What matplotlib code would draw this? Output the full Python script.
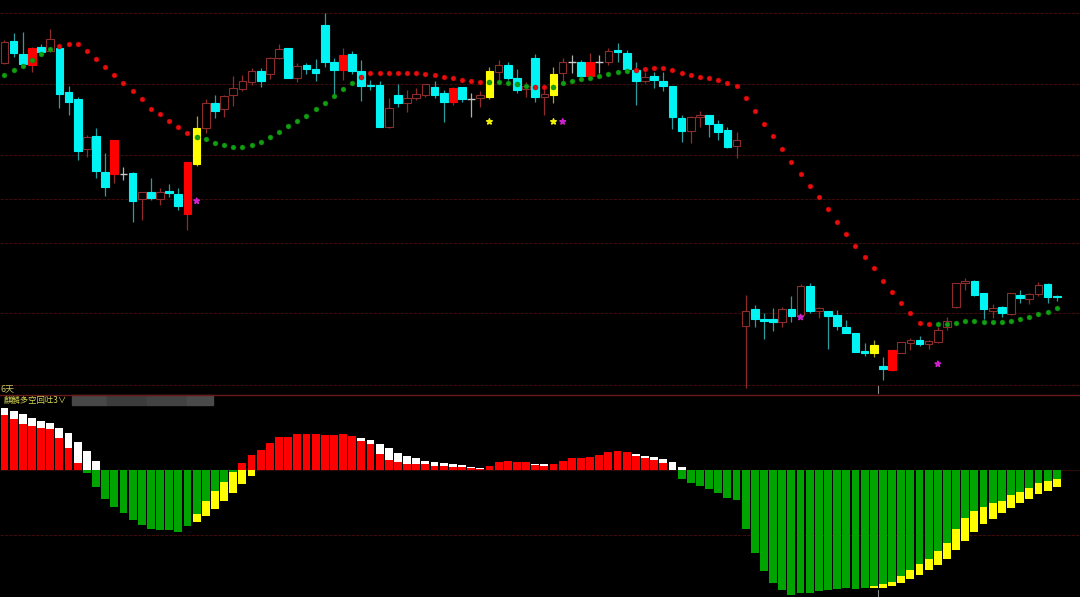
import matplotlib
matplotlib.use("Agg")
import matplotlib.pyplot as plt
from matplotlib.patches import Rectangle
from matplotlib.lines import Line2D
import numpy as np

plt.rcParams['font.family'] = ['Noto Sans CJK SC', 'DejaVu Sans']

# daily candles, price in points
opens = [537.3, 559.3, 546, 534.7, 553.3, 549, 552.3, 507.7, 500.7, 451,
         464.3, 427.7, 426.3, 426, 426.7, 400.7, 407.7, 401.3, 409, 405.7,
         385.7, 436, 472.5, 496.7, 490.7, 505, 511.5, 518.3, 529, 526.5,
         542.3, 552.3, 521.7, 535, 531.3, 575, 537.7, 530, 546, 529,
         515.3, 515, 472.7, 505, 496.7, 502.3, 505, 513.3, 506.7, 497.7,
         513.3, 501, 501.7, 502.7, 528.3, 535, 521.7, 510.7, 542.3, 502.7,
         505, 526.7, 537.7, 537.7, 524, 538.3, 537.7, 550, 547.3, 530,
         519, 524, 519, 514, 481.7, 469.3, 482.7, 485, 475.7, 470,
         454.3, 274.3, 290.7, 280.7, 280.7, 277.7, 290.7, 285, 314.3, 289,
         289.3, 285, 273.3, 267.3, 249, 247.3, 234, 230, 247.3, 257.3,
         260, 256, 258.3, 272.7, 292.7, 317.3, 319, 306.7, 289, 292.7,
         286, 305, 300.7, 306, 315.7, 304.3]
closes = [558.3, 547.3, 536, 552.3, 548.3, 560.7, 506.3, 497.7, 449.3, 463.3,
          428.7, 412.7, 460, 426, 399, 407.7, 401.7, 407.7, 406.7, 394.3,
          437.7, 472.3, 496.7, 489, 504.5, 511.7, 519, 529, 519, 542.3,
          551, 521.7, 534, 531, 526.7, 537.7, 530, 545, 529, 514,
          513.7, 473.3, 491.7, 496.7, 501.7, 505.7, 515.7, 505, 497.7, 511.7,
          500.7, 501, 505, 529, 535, 522.3, 510, 514, 502.7, 505.7,
          525.7, 537.7, 537.7, 524, 538.3, 538.3, 549, 548.3, 531, 519,
          523.3, 520, 514, 482.7, 469.3, 482.7, 485, 475.7, 468.3, 453.3,
          460, 289.3, 280.7, 279, 278.3, 290.7, 284.3, 314.3, 289.3, 291.7,
          284.3, 274.3, 266.7, 248.3, 247.3, 255, 231, 250, 257.7, 260,
          256, 259, 270, 279.3, 316.7, 319, 305, 290.7, 291.7, 286.7,
          306.7, 301.7, 305.7, 315, 303.3, 303.3]
highs = [560, 567.3, 568.3, 553.3, 555.7, 570.7, 552.3, 514, 503.3, 465,
         471.7, 447.3, 460, 433.3, 428.3, 407.7, 421.7, 411.7, 415.7, 411.7,
         437.7, 484.3, 501, 505, 505, 524, 525, 532, 531.7, 543,
         555.7, 552.3, 536.7, 536.7, 541, 586.7, 541.7, 551.7, 549.3, 540,
         520, 519.3, 501.7, 516, 510, 511.7, 516, 519, 510, 513.3,
         513.3, 506.7, 509, 532.7, 540, 538, 530.7, 518.3, 545.7, 515,
         533.3, 541.7, 545, 540, 547.3, 545, 551.7, 556.7, 550, 537.7,
         528.3, 528, 527.7, 514, 485, 484, 489, 485, 480, 473.3,
         468.3, 305, 295, 287, 291.7, 292.7, 304, 316, 316.7, 293.3,
         289.3, 290, 280, 267.3, 257.3, 260, 242.7, 250, 258, 261.7,
         264, 260, 273.3, 282.7, 317.3, 321.7, 320, 307.3, 296, 294,
         307.3, 310, 306.7, 318.3, 316.7, 305]
lows = [536, 543.3, 535, 528.3, 545, 548.3, 492.3, 485, 440, 443.3,
        421.7, 404, 417.3, 420, 378.3, 380, 400, 395, 403.3, 390,
        370, 434.3, 466.7, 481.7, 483.5, 494.5, 509, 515, 512.7, 520.7,
        541, 521.7, 518.3, 526, 519, 533.3, 502.7, 520, 526, 499,
        510, 473.3, 471.7, 492.7, 488.3, 500, 502.7, 501.7, 478.3, 495,
        498.3, 482.7, 492.7, 500.7, 516.7, 520, 506.7, 503.3, 498.3, 485,
        497.3, 518.3, 526.7, 521.7, 523.3, 526.7, 535, 538.3, 526.7, 495,
        516.7, 511.7, 509.3, 470.7, 458.3, 456.7, 472.7, 462.7, 460, 451.7,
        441.7, 211.7, 272.7, 260.7, 269, 272.7, 278.3, 283.3, 286.7, 281.7,
        251, 270, 266.7, 248.3, 244, 242.7, 220, 229.3, 246.7, 250,
        254, 251, 257.3, 270, 291.7, 310, 304, 280.7, 281.7, 283.3,
        285, 296.7, 295.7, 304, 297.3, 299.3]

# days painted by the indicator
red_days = [3, 12, 20, 37, 49, 64, 97]
yellow_days = [21, 53, 60, 95]

# stop-and-reverse dots
sar = [525.3, 530, 534, 539.7, 545.7, 551.3, 554.3, 556.3, 556.3, 549.3,
       541, 532.7, 524.7, 517.3, 509, 500.7, 491, 485.7, 479.3, 472.7,
       466.7, 462.7, 460.7, 457.5, 455, 453.3, 453.5, 455.3, 458.3, 462.7,
       468.3, 474, 479.3, 484.3, 491, 497.3, 504, 510.7, 517.3, 523.3,
       526.7, 526.7, 526.7, 527.3, 526.7, 526.7, 526, 525.3, 523.3, 521.7,
       520, 519, 517.7, 517.7, 517.7, 517.3, 516, 514.3, 513.3, 512.7,
       513.3, 516.7, 519, 520.7, 522.3, 524, 525.7, 527.7, 529.3, 530,
       531, 531.7, 531.7, 530, 526.7, 525, 523.3, 521.7, 520, 517.3,
       514, 501.7, 488.7, 476.3, 463.7, 451, 438, 426, 414, 402.7,
       390.7, 378.3, 366, 354.3, 343, 331.7, 319, 308, 297.3, 287.3,
       277.3, 276, 276, 276, 277.3, 279, 279.3, 278.3, 278.3, 278.3,
       279.3, 281, 282.7, 286, 288.3, 291.7]
sar_trend = ("gggggg" + "r" * 15 + "g" * 18 + "r" * 14 + "ggggg" + "rr"
             + "g" * 9 + "r" * 33 + "g" * 14)

# signal stars
star_days = [21, 53, 60, 61, 87, 102]
star_prices = [399, 478.3, 478.3, 478.3, 282.7, 236]
star_kinds = ["m", "y", "y", "m", "m", "m"]

# price grid levels
grid_levels = [586.7, 516.3, 444.7, 401, 357.5, 287, 215]

# histogram: outer bar (white / yellow) and inner bar (red / green)
outer = [61.7, 59, 55.7, 52.3, 49.3, 46.7, 42.3, 36.7, 27.7, 19.3,
         9.3, -29.3, -36.7, -42.7, -50, -55, -59, -60, -60, -62.3,
         -56, -52.3, -45.7, -39, -31, -22.7, -14, -5.7, 20, 27.3,
         33.3, 33.3, 35.7, 35.7, 35.7, 35, 35, 36, 34, 32,
         30, 25.7, 21.7, 17.3, 14, 11.7, 9.3, 8.3, 6.7, 5.7,
         5, 3.3, 2.3, 4, 8.3, 9.3, 7.7, 7.7, 6, 5.7,
         5.7, 9, 11.7, 11.7, 13.3, 15, 17.7, 19.3, 17.7, 15.7,
         14.3, 13.3, 11, 8, 3.3, -13.3, -16, -19.3, -22.7, -27.7,
         -30, -59, -82.7, -100.7, -113.3, -120, -125, -122.7, -122.7, -121,
         -120, -119.3, -118.3, -119, -118.3, -117.7, -117.7, -115.7, -112.7, -109.3,
         -105, -100, -95, -89, -80, -70.7, -62.3, -54.3, -49, -43.3,
         -38.3, -33.3, -29, -24.3, -20.7, -17.3]
inner = [55, 51, 46, 44.3, 41.7, 41, 31.7, 21.7, 6.7, -3.3,
         -16.7, -29.3, -36.7, -42.7, -50, -55, -59, -60, -60, -62.3,
         -56, -44, -31, -21, -11.7, -1.7, 6.7, 15, 20, 27.3,
         33.3, 33.3, 35.7, 35.7, 35.7, 35, 35, 36, 34, 29.5,
         25.7, 15.7, 10, 7.7, 5.7, 5.7, 5.7, 4.3, 4.3, 3.3,
         3.3, 1.7, 1, 4, 8.3, 9.3, 7.7, 7.7, 5, 4.3,
         5.7, 9, 11.7, 11.7, 13.3, 15, 17.7, 19.3, 17.7, 14.3,
         12.3, 10, 6.7, 0, -8.7, -13.3, -16, -19.3, -22.7, -27.7,
         -30, -59, -82.7, -100.7, -113.3, -120, -125, -122.7, -122.7, -121,
         -120, -119.3, -118.3, -119, -118.3, -116, -114, -111.7, -106, -100,
         -94.3, -89, -81, -72.7, -59.3, -48.3, -40.7, -36.7, -33.3, -30.7,
         -25, -21.7, -18.3, -13.3, -11, -9.3]

n = len(opens)
x = np.arange(n)
W, H = 1080, 597
split = 395  # pixel row between panels

fig = plt.figure(figsize=(W / 100, H / 100), dpi=100, facecolor="black")
ax = fig.add_axes([0, 1 - split / H, 1, split / H])
ax2 = fig.add_axes([0, 0, 1, 1 - split / H])
for a in (ax, ax2):
    a.set_facecolor("black")
    a.set_xlim(-0.49, 117.54)
    a.set_xticks([])
    a.set_yticks([])
    for s in a.spines.values():
        s.set_visible(False)
ax.set_ylim(205, 600)
ax2.set_ylim(-127, 75)

# grid
for g in grid_levels:
    ax.axhline(g, color="#3c0c0c", lw=0.8, ls=(0, (3, 1)), zorder=0)
ax2.axhline(0, color="#2a0a0a", lw=0.8, zorder=0)
ax2.axhline(-65, color="#3c0c0c", lw=0.8, ls=(0, (3, 1)), zorder=0)

# candles
bw = 0.84
hollow_col = "#8e2c2c"
for i in range(n):
    o, c, hi, lo = opens[i], closes[i], highs[i], lows[i]
    if i in red_days:
        face, edge, wick = "#ff0000", "#ff0000", hollow_col
    elif i in yellow_days:
        face, edge, wick = "#ffff00", "#ffff00", "#a8a820"
    elif o == c:
        face, edge, wick = "#c8c8c8", "#c8c8c8", "#b0b0b0"
    elif c > o:
        face, edge, wick = "black", hollow_col, hollow_col
    else:
        face, edge, wick = "#00f4f4", "#00f4f4", "#2a9e9e"
    ax.vlines(i, lo, hi, color=wick, lw=0.9, zorder=2)
    if o == c:
        ax.hlines(o, i - bw / 2, i + bw / 2, color=face, lw=1.0, zorder=3)
        continue
    ax.add_patch(Rectangle((i - bw / 2, min(o, c)), bw, abs(c - o),
                           facecolor=face, edgecolor=edge, lw=0.8, zorder=3))

# SAR dots
sar = np.array(sar)
up = np.array([t == "g" for t in sar_trend])
ax.scatter(x[up], sar[up], s=13, color="#11a011", edgecolors="#0a700a",
           linewidths=0.3, zorder=4)
ax.scatter(x[~up], sar[~up], s=13, color="#e80e0e", edgecolors="#a00000",
           linewidths=0.3, zorder=4)

# stars
star_cols = {"m": "#d020d0", "y": "#f0f000"}
ax.scatter(star_days, star_prices, marker="*", s=18,
           color=[star_cols[k] for k in star_kinds], zorder=4)

# histogram
outer = np.array(outer)
inner = np.array(inner)
ax2.bar(x, outer, width=0.86, color=np.where(outer > 0, "#ffffff", "#ffff00"),
        zorder=2)
ax2.bar(x, inner, width=0.86, color=np.where(inner > 0, "#ff0000", "#00a400"),
        zorder=3)

# panel separator and cursor ticks
fig.add_artist(Line2D([0, 1], [1 - split / H] * 2, color="#6a1818", lw=1))
fig.add_artist(Line2D([878 / W] * 2, [1 - 386 / H, 1 - 393 / H],
                      color="#8a8a8a", lw=0.8))
fig.add_artist(Line2D([878 / W] * 2, [1 - 590 / H, 0], color="#8a8a8a", lw=0.8))

# labels
fig.text(0.5 / W, 1 - 388.5 / H, "6天", color="#c8c060", fontsize=6.5, va="center")
fig.text(4 / W, 1 - 400.5 / H, "麒麟多空回吐3∨", color="#d8d858",
         fontsize=6, va="center")
for x0, w, col in [(72, 35, "#474747"), (107, 40, "#3c3c3c"),
                   (147, 40, "#424242"), (187, 26, "#4a4a4a")]:
    fig.add_artist(Rectangle((x0 / W, 1 - 405 / H), w / W, 10 / H,
                             transform=fig.transFigure, color=col))

plt.savefig("out.png", dpi=100, facecolor="black")
